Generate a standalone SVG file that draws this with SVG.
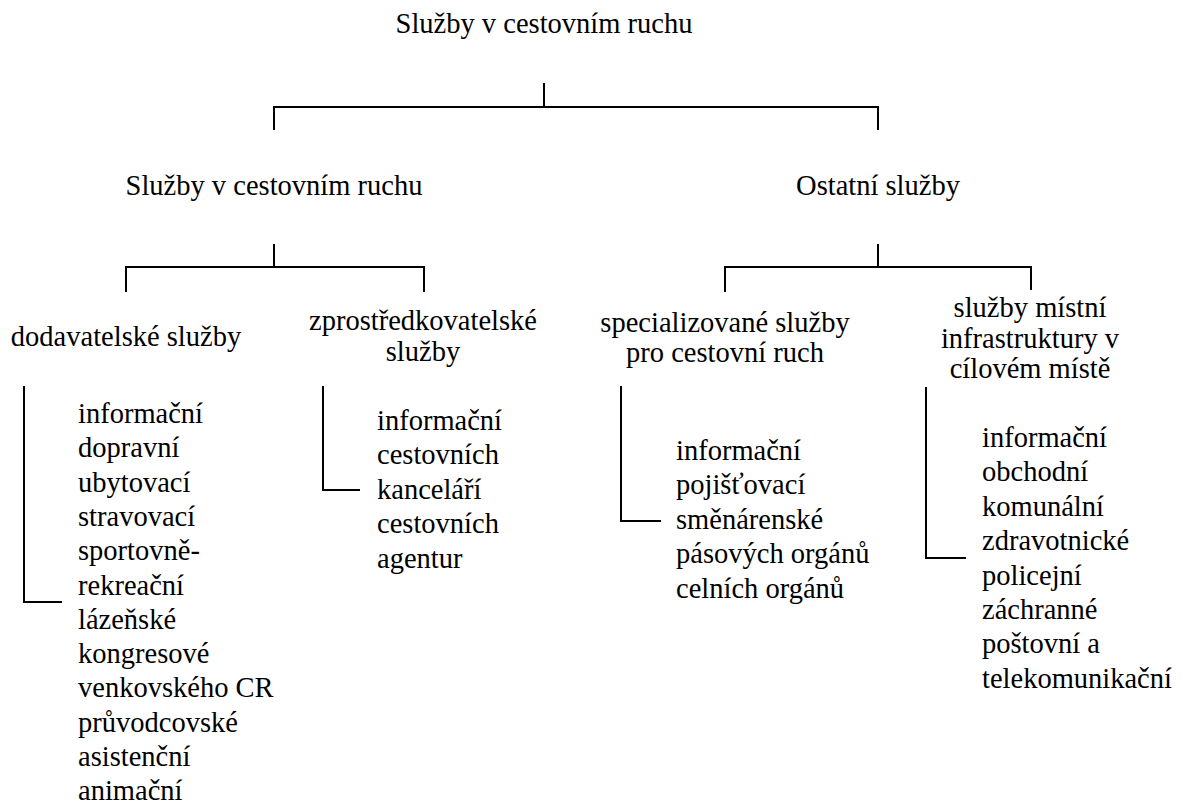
<svg xmlns="http://www.w3.org/2000/svg" width="1186" height="807" viewBox="0 0 1186 807">
<style>
text{font-family:"Liberation Serif","Times New Roman",serif;font-size:28.5px;fill:#000}
.c{text-anchor:middle}
.ln{stroke:#000;stroke-width:2;fill:none}
</style>
<rect width="1186" height="807" fill="#fff"/>
<g id="connectors">
<path class="ln" d="M544 83V107M274 130V107H878V130"/>
<path class="ln" d="M274 244V267M126 292V267H424V292"/>
<path class="ln" d="M878 244V267M725 292V267H1031V290"/>
<path class="ln" d="M24 386V602H62"/>
<path class="ln" d="M323 386V490H360"/>
<path class="ln" d="M621 386V521H661"/>
<path class="ln" d="M926 387V558H966"/>
</g>
<g id="root"><text class="c" x="544" y="33">Služby v cestovním ruchu</text></g>
<g id="n-cr"><text class="c" x="274" y="195">Služby v cestovním ruchu</text></g>
<g id="n-ostatni"><text class="c" x="878" y="195">Ostatní služby</text></g>
<g id="n-dod"><text class="c" x="126" y="346">dodavatelské služby</text></g>
<g id="n-zpr"><text class="c" x="423" y="330">zprostředkovatelské</text><text class="c" x="423" y="361">služby</text></g>
<g id="n-spec"><text class="c" x="725" y="332">specializované služby</text><text class="c" x="725" y="362">pro cestovní ruch</text></g>
<g id="n-infra"><text class="c" x="1030" y="317">služby místní</text><text class="c" x="1030" y="348">infrastruktury v</text><text class="c" x="1030" y="378">cílovém místě</text></g>
<g id="l-dod">
<text x="78" y="423">informační</text>
<text x="78" y="457.3">dopravní</text>
<text x="78" y="491.6">ubytovací</text>
<text x="78" y="525.9">stravovací</text>
<text x="78" y="560.2">sportovně-</text>
<text x="78" y="594.5">rekreační</text>
<text x="78" y="628.8">lázeňské</text>
<text x="78" y="663.1">kongresové</text>
<text x="78" y="697.4">venkovského CR</text>
<text x="78" y="731.7">průvodcovské</text>
<text x="78" y="766">asistenční</text>
<text x="78" y="800.3">animační</text>
</g>
<g id="l-zpr">
<text x="377" y="430">informační</text>
<text x="377" y="464.4">cestovních</text>
<text x="377" y="498.8">kanceláří</text>
<text x="377" y="533.2">cestovních</text>
<text x="377" y="567.6">agentur</text>
</g>
<g id="l-spec">
<text x="676" y="460">informační</text>
<text x="676" y="494.4">pojišťovací</text>
<text x="676" y="528.8">směnárenské</text>
<text x="676" y="563.2">pásových orgánů</text>
<text x="676" y="597.6">celních orgánů</text>
</g>
<g id="l-infra">
<text x="982" y="447">informační</text>
<text x="982" y="481.4">obchodní</text>
<text x="982" y="515.8">komunální</text>
<text x="982" y="550.2">zdravotnické</text>
<text x="982" y="584.6">policejní</text>
<text x="982" y="619">záchranné</text>
<text x="982" y="653.4">poštovní a</text>
<text x="982" y="687.8">telekomunikační</text>
</g>
</svg>
